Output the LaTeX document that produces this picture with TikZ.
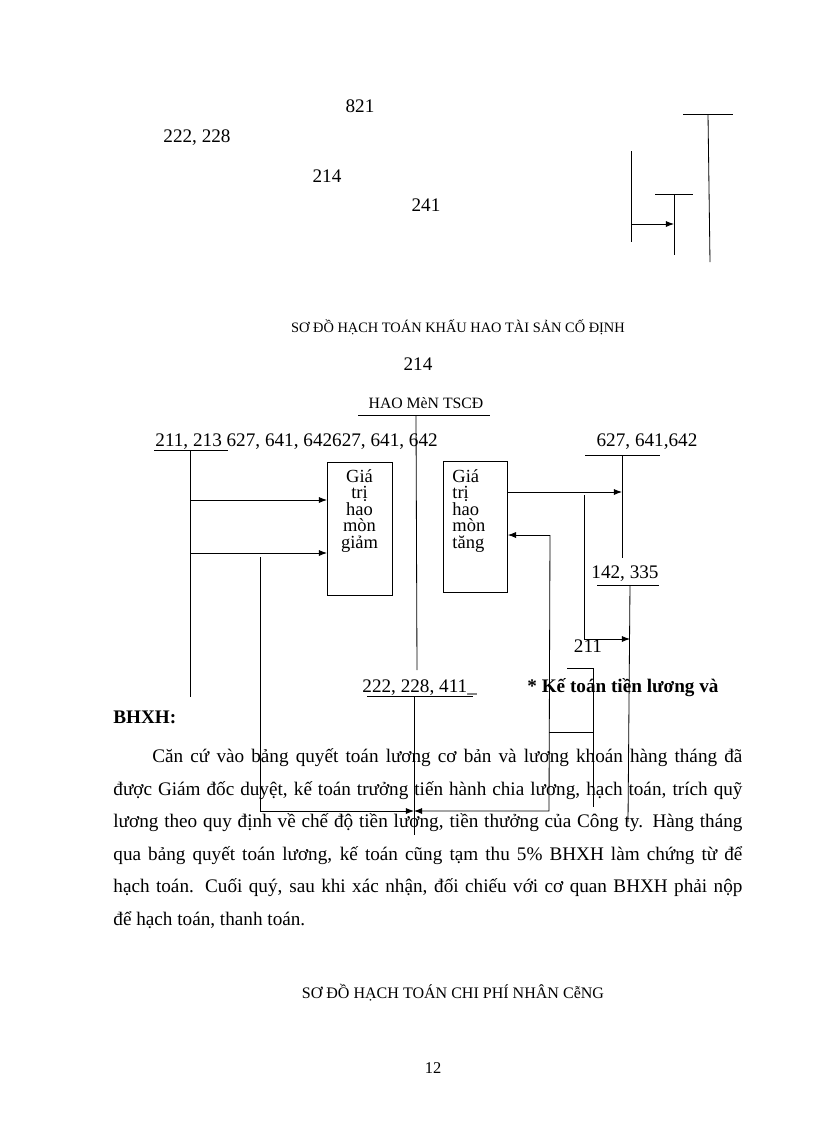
\documentclass[tikz,border=0pt]{standalone}
\usepackage{fontspec}
\setmainfont{Liberation Serif}
\usetikzlibrary{calc,arrows.meta}
\newcommand\linefull{458.9pt}
\newcommand\lineind{430.4pt}
\begin{document}
\begin{tikzpicture}[x=0.7295pt,y=-0.7295pt,line width=0.6pt,>={Latex[length=6pt,width=4.5pt]},
	lbl/.style={anchor=base,inner sep=0pt,font=\fontsize{14}{16}\selectfont},
	ttl/.style={anchor=base,inner sep=0pt,font=\fontsize{10.5}{12}\selectfont},
	bodyln/.style={anchor=base west,inner sep=0pt,font=\fontsize{14}{16}\selectfont},
	acbox/.style={draw,anchor=north west,inner sep=0pt},
	boxtxt/.style={inner sep=0pt,font=\fontsize{13.5}{12}\selectfont}]
	\useasboundingbox (0,0) rectangle (816,1123);
	% top of page
	\node[lbl] (n821) at (360,112) {821};
	\node[lbl] (n222) at (197,142) {222, 228};
	\node[lbl] (n214top) at (327,182) {214};
	\node[lbl] (n241) at (426,211) {241};
	\coordinate (ta1) at (683,114); \coordinate (ta2) at (733,114);
	\coordinate (ta) at (708,114); \coordinate (tab) at (710,262);
	\coordinate (tb1) at (655,194); \coordinate (tb2) at (693,194);
	\coordinate (tb) at (674,194); \coordinate (tbb) at (674,255);
	\coordinate (tbm) at (674,224);
	\coordinate (tc) at (631,151); \coordinate (tcb) at (631,242);
	\coordinate (tcm) at (631,224);
	\draw (ta1)--(ta2); \draw (ta)--(tab);
	\draw (tb1)--(tb2); \draw (tb)--(tbb);
	\draw (tc)--(tcb);
	\draw[->] (tcm)--(tbm);
	% khau hao tai san co dinh
	\node[ttl] (title1) at (458,332) {SƠ ĐỒ HẠCH TOÁN KHẤU HAO TÀI SẢN CỐ ĐỊNH};
	\node[lbl] (n214) at (418,370) {214};
	\node[ttl,font=\fontsize{11.5}{13}\selectfont] (haomon) at (426,408) {HAO MèN TSCĐ};
	\coordinate (hm1) at (358,415); \coordinate (hm2) at (490,415);
	\coordinate (hm) at (416,415); \coordinate (hmb) at (417,670);
	\draw (hm1)--(hm2); \draw (hm)--(hmb);
	\node[lbl,anchor=base west] (n211) at (155,446) {211, 213 627, 641, 642627, 641, 642};
	\coordinate (u1) at (154,450); \coordinate (u2) at (228,450);
	\coordinate (u) at (190,450); \coordinate (ub) at (190,697);
	\draw (u1)--(u2); \draw (u)--(ub);
	% boxes
	\node[acbox,minimum width=47.4pt,minimum height=97pt] (giam) at (327,462) {};
	\node[boxtxt,anchor=north,align=center] (giamtxt) at (359.5,469) {Giá\\trị\\hao\\mòn\\giảm};
	\node[acbox,minimum width=46.7pt,minimum height=95.6pt] (tang) at (443,461) {};
	\node[boxtxt,anchor=north west,align=left] (tangtxt) at (452,469) {Giá\\trị\\hao\\mòn\\tăng};
	\coordinate (a1) at (190,500); \coordinate (a2) at (190,553);
	\draw[->] (a1)--(a1 -| giam.west);
	\draw[->] (a2)--(a2 -| giam.west);
	% 222, 228, 411
	\node[lbl,anchor=base west] (n411) at (362,692) {222, 228, 411\_};
	\coordinate (v1) at (367,696); \coordinate (v2) at (473,696);
	\coordinate (v) at (414,696); \coordinate (vb) at (414,835);
	\draw (v1)--(v2); \draw (v)--(vb);
	\coordinate (g1) at (260,557); \coordinate (g2) at (260,811);
	\coordinate (s1) at (550,535); \coordinate (s2) at (549,811);
	\draw[->] (g1)--(g2)--(g2 -| v);
	\draw[->] (s1)--(s1 -| tang.east);
	\draw[->] (s1)--(s2)--(s2 -| v);
	% 627, 641, 642
	\node[lbl] (n627) at (647,446) {627, 641,642};
	\coordinate (w1) at (585,455); \coordinate (w2) at (660,455);
	\coordinate (w) at (622,455); \coordinate (wb) at (622,558);
	\draw (w1)--(w2); \draw (w)--(wb);
	\coordinate (t1) at (507,492);
	\draw[->] (t1)--(t1 -| w);
	% 142, 335
	\node[lbl] (n142) at (625,578) {142, 335};
	\coordinate (k1) at (597,585); \coordinate (k2) at (659,585);
	\coordinate (k) at (630,585); \coordinate (kb) at (628,822);
	\draw (k1)--(k2); \draw (k)--(kb);
	\coordinate (r1) at (584,495); \coordinate (r2) at (584,639);
	\draw[->] (r1)--(r2)--(r2 -| k);
	\node[lbl] (n211b) at (588,652) {211};
	\coordinate (m1) at (567,668); \coordinate (m2) at (593,668);
	\coordinate (mb) at (593,807);
	\draw (m1)--(m2)--(mb);
	\coordinate (j1) at (549,732);
	\draw (j1)--(j1 -| m2);
	% luong va BHXH
	\node[bodyln,font=\fontsize{14}{16}\selectfont\bfseries] (kt) at (527,692) {* Kế toán tiền lương và};
	\node[bodyln,font=\fontsize{14}{16}\selectfont\bfseries] (bhxh) at (113,723) {BHXH:};
	\node[bodyln] (p1) at (152,762) {\makebox[\lineind][s]{Căn cứ vào bảng quyết toán lương cơ bản và lương khoán hàng tháng đã}};
	\node[bodyln] (p2) at (113,795) {\makebox[\linefull][s]{được Giám đốc duyệt, kế toán trưởng tiến hành chia lương, hạch toán, trích quỹ}};
	\node[bodyln] (p3) at (113,827) {\makebox[\linefull][s]{lương theo quy định về chế độ tiền lương, tiền thưởng của Công ty. Hàng tháng}};
	\node[bodyln] (p4) at (113,860) {\makebox[\linefull][s]{qua bảng quyết toán lương, kế toán cũng tạm thu 5\% BHXH làm chứng từ để}};
	\node[bodyln] (p5) at (113,892) {\makebox[\linefull][s]{hạch toán. Cuối quý, sau khi xác nhận, đối chiếu với cơ quan BHXH phải nộp}};
	\node[bodyln] (p6) at (113,925) {để hạch toán, thanh toán.};
	\node[ttl,font=\fontsize{11.7}{13}\selectfont] (title2) at (453,998) {SƠ ĐỒ HẠCH TOÁN CHI PHÍ NHÂN CễNG};
	\node[lbl,font=\fontsize{12}{14}\selectfont] (page) at (433,1073) {12};
\end{tikzpicture}
\end{document}
